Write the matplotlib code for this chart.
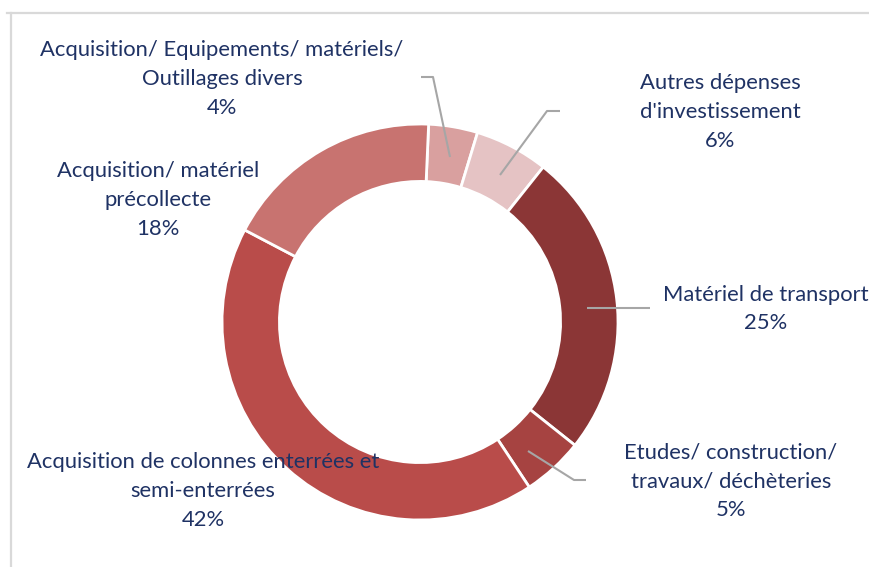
import matplotlib.pyplot as plt
from matplotlib.lines import Line2D

# data (clockwise from the top)
categories = ["Acquisition/ Equipements/ matériels/\nOutillages divers",
              "Autres dépenses\nd'investissement",
              "Matériel de transport",
              "Etudes/ construction/\ntravaux/ déchèteries",
              "Acquisition de colonnes enterrées et\nsemi-enterrées",
              "Acquisition/ matériel\nprécollecte"]
shares = [4, 6, 25, 5, 42, 18]
colors = ["#d9a09f", "#e5c3c4", "#8b3636", "#a64341", "#b94c4a", "#c87370"]

W, H = 869, 567
text_color = "#1f3264"
line_color = "#a6a6a6"

# label centers (x, y in image pixels) and leader lines
label_pos = [(222, 79), (720, 112), (766, 309), (731, 481), (203, 491), (158, 200)]
leaders = [[(450, 157), (433, 77), (421, 77)],
           [(500, 175), (547, 111), (560, 111)],
           [(587, 308), (650, 308)],
           [(528, 451), (574, 480), (586, 480)],
           None, None]

fig = plt.figure(figsize=(W / 100, H / 100), dpi=100)
ax = fig.add_axes([0, 0, 1, 1])

cx, cy, R = 420, H - 322, 198
ax.pie(shares, colors=colors, startangle=87.5, counterclock=False,
       center=(cx, cy), radius=R, frame=True,
       wedgeprops=dict(width=R * 0.29, edgecolor="white", linewidth=2))
ax.set_xlim(0, W)
ax.set_ylim(0, H)
ax.set_aspect("equal")
ax.axis("off")

for cat, val, (x, y), lead in zip(categories, shares, label_pos, leaders):
    if lead:
        xs = [p[0] for p in lead]
        ys = [H - p[1] for p in lead]
        ax.plot(xs, ys, color=line_color, lw=1.5, solid_capstyle="butt")
    ax.text(x, H - y, cat + "\n" + str(val) + "%", ha="center", va="center",
            fontsize=15.8, family="Lato", color=text_color, linespacing=1.55)

# frame of the chart area
fig.add_artist(Line2D([7 / W, 1], [1 - 12.5 / H, 1 - 12.5 / H], color="#d9d9d9", lw=1.6))
fig.add_artist(Line2D([11 / W, 11 / W], [0, 1 - 12.5 / H], color="#d9d9d9", lw=1.6))

fig.savefig("out.png", dpi=100)
